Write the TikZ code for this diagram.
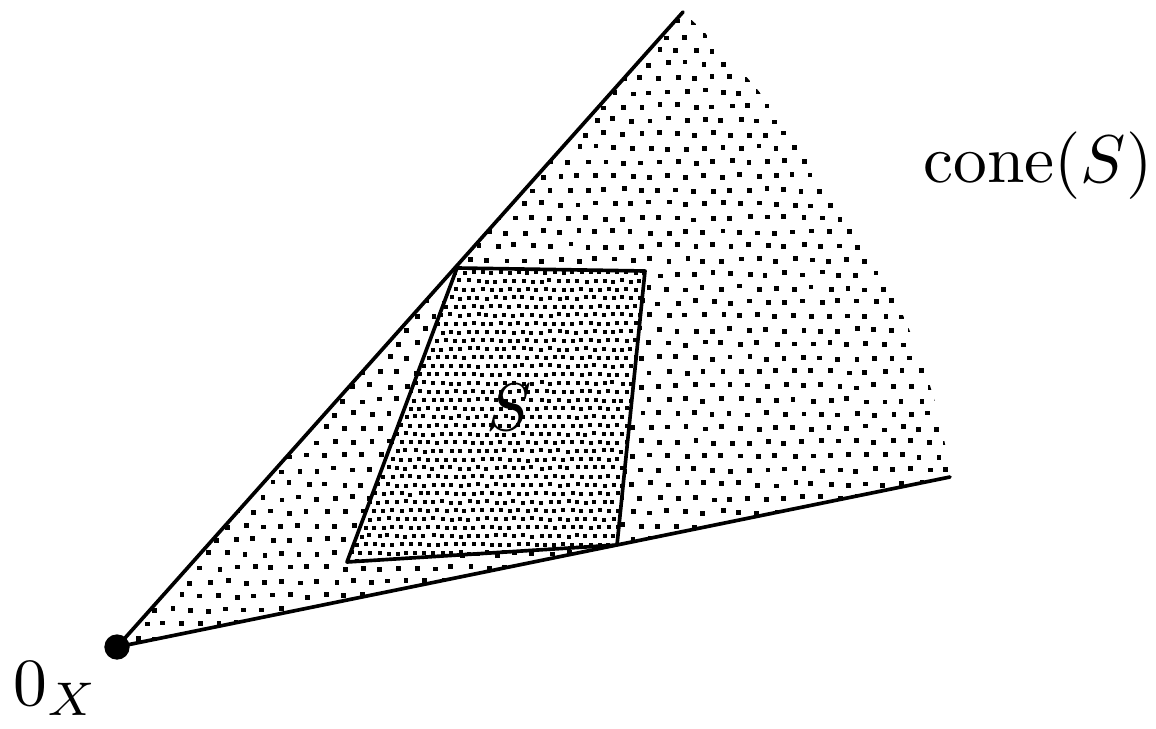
\documentclass[tikz,border=0pt]{standalone}
\begin{document}
\begin{tikzpicture}[x=0.025cm,y=-0.025cm,
  edge/.style={line width=2.6pt, line cap=round, line join=round},
  lbl/.style={scale=4.8, inner sep=0pt}]
\useasboundingbox (0,0) rectangle (1156,729);
\coordinate (O) at (117,647);
\coordinate (A) at (683,12);
\coordinate (B) at (950,477);
\coordinate (P1) at (457,268);
\coordinate (P2) at (645,271);
\coordinate (P3) at (617,545);
\coordinate (P4) at (347,562);
\pgfmathsetseed{7}
% sparse dots of cone(S)
\begin{scope}
\clip (O) -- (A) .. controls (790,110) and (930,300) .. (B) -- cycle;
\foreach \j in {0,...,46} {
  \foreach \i in {0,...,47} {
    \pgfmathsetmacro\px{110+18*\i+9*mod(\j,2)+2*rand}
    \pgfmathsetmacro\py{8+14*\j+2*rand}
    \fill (\px,\py) +(-2.4,-2.4) rectangle +(2.4,2.4);
  }
}
\end{scope}
% dense dots of S
\fill[white] (P1) -- (P2) -- (P3) -- (P4) -- cycle;
\begin{scope}
\clip (P1) -- (P2) -- (P3) -- (P4) -- cycle;
\foreach \j in {0,...,36} {
  \foreach \i in {0,...,34} {
    \pgfmathsetmacro\px{343+9*\i+4.5*mod(\j,2)+1*rand}
    \pgfmathsetmacro\py{264+8.5*\j+1*rand}
    \fill (\px,\py) +(-2,-2) rectangle +(2,2);
  }
}
\end{scope}
% outlines
\draw[edge] (A) -- (O) -- (B);
\draw[edge] (P1) -- (P2) -- (P3) -- (P4) -- cycle;
\fill (O) circle[radius=9pt];
% labels
\node[lbl, anchor=base] (cone) at (1038,182) {cone$(S)$};
\node[lbl, anchor=base] (Slab) at (509,430) {$S$};
\node[lbl, anchor=base west] (zero) at (12,705) {$0_X$};
\end{tikzpicture}
\end{document}
